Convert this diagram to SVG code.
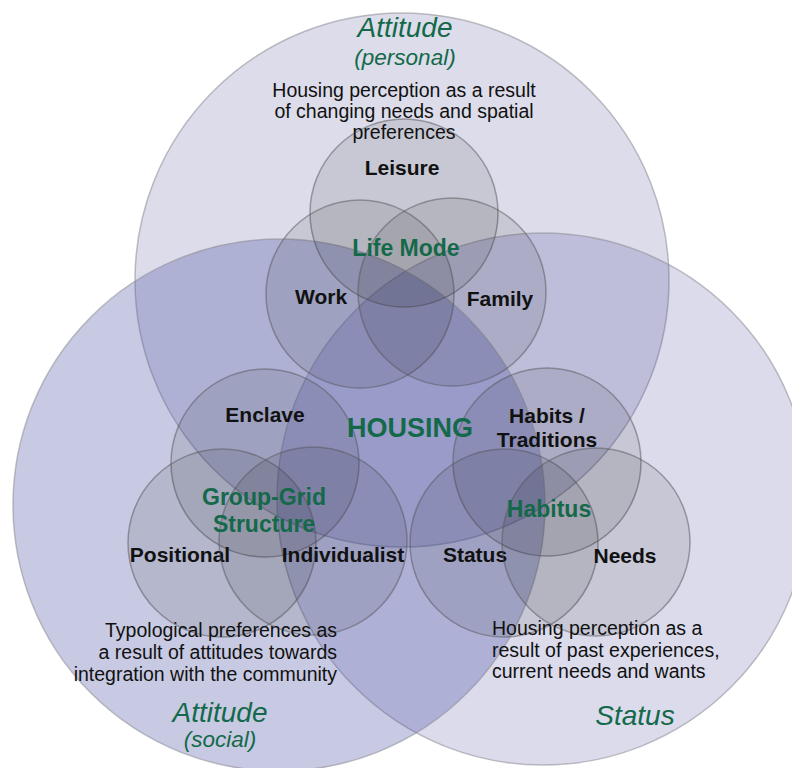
<svg xmlns="http://www.w3.org/2000/svg" width="792" height="768" viewBox="0 0 792 768">
<style>
.big{stroke:#8c8c96;stroke-opacity:0.55;stroke-width:1.5}
.top{fill:#3c3c8c;fill-opacity:0.18}
.left{fill:#4650a0;fill-opacity:0.3}
.right{fill:#3a3a96;fill-opacity:0.18}
.sm{fill:#000;fill-opacity:0.09;stroke:#55555c;stroke-opacity:0.5;stroke-width:1.5}
text{font-family:"Liberation Sans",Arial,Helvetica,sans-serif}
.lbl{font-weight:bold;font-size:21px;fill:#111;text-anchor:middle}
.grp{font-weight:bold;font-size:23px;fill:#14694a;text-anchor:middle}
.hub{font-weight:bold;font-size:27px;fill:#14694a;text-anchor:middle}
.ttl{font-style:italic;font-size:28px;fill:#14694a;text-anchor:middle}
.sub{font-style:italic;font-size:22.5px;fill:#14694a;text-anchor:middle}
.desc{font-size:19.5px;fill:#111}
</style>
<rect width="792" height="768" fill="#fff"/>
<g id="attitude-personal"><circle class="big top" cx="402" cy="280" r="267"/></g>
<g id="status-domain"><circle class="big right" cx="543" cy="499" r="266"/></g>
<g id="attitude-social"><circle class="big left" cx="279" cy="505" r="266"/></g>

<g id="leisure"><circle class="sm" cx="404" cy="213" r="94"/><text class="lbl" x="402" y="175">Leisure</text></g>
<g id="work"><circle class="sm" cx="360" cy="294" r="94"/><text class="lbl" x="321" y="304">Work</text></g>
<g id="family"><circle class="sm" cx="452" cy="292" r="94"/><text class="lbl" x="500" y="306">Family</text></g>
<g id="enclave"><circle class="sm" cx="265" cy="463" r="94"/><text class="lbl" x="265" y="422">Enclave</text></g>
<g id="positional"><circle class="sm" cx="222" cy="543" r="94"/><text class="lbl" x="180" y="562">Positional</text></g>
<g id="individualist"><circle class="sm" cx="313" cy="541" r="94"/><text class="lbl" x="343" y="562">Individualist</text></g>
<g id="habits"><circle class="sm" cx="547" cy="462" r="94"/><text class="lbl" x="547" y="423">Habits /</text><text class="lbl" x="547" y="447">Traditions</text></g>
<g id="status"><circle class="sm" cx="504" cy="543" r="94"/><text class="lbl" x="475" y="562">Status</text></g>
<g id="needs"><circle class="sm" cx="596" cy="542" r="94"/><text class="lbl" x="625" y="563">Needs</text></g>

<g id="life-mode"><text class="grp" x="406" y="256">Life Mode</text></g>
<g id="group-grid"><text class="grp" x="264" y="505">Group-Grid</text><text class="grp" x="264" y="532">Structure</text></g>
<g id="habitus"><text class="grp" x="549" y="517">Habitus</text></g>
<g id="housing"><text class="hub" x="410" y="437">HOUSING</text></g>

<g id="label-attitude-personal">
<text class="ttl" x="405" y="37">Attitude</text>
<text class="sub" x="405" y="65">(personal)</text>
<text class="desc" text-anchor="middle"><tspan x="404" y="97">Housing perception as a result</tspan><tspan x="404" y="118">of changing needs and spatial</tspan><tspan x="404" y="139">preferences</tspan></text>
</g>
<g id="label-attitude-social">
<text class="desc" text-anchor="end"><tspan x="337" y="637">Typological preferences as</tspan><tspan x="337" y="659">a result of attitudes towards</tspan><tspan x="337" y="681">integration with the community</tspan></text>
<text class="ttl" x="220" y="722">Attitude</text>
<text class="sub" x="220" y="747">(social)</text>
</g>
<g id="label-status">
<text class="desc" text-anchor="start"><tspan x="492" y="635">Housing perception as a</tspan><tspan x="492" y="657">result of past experiences,</tspan><tspan x="492" y="678">current needs and wants</tspan></text>
<text class="ttl" x="635" y="725">Status</text>
</g>
</svg>
